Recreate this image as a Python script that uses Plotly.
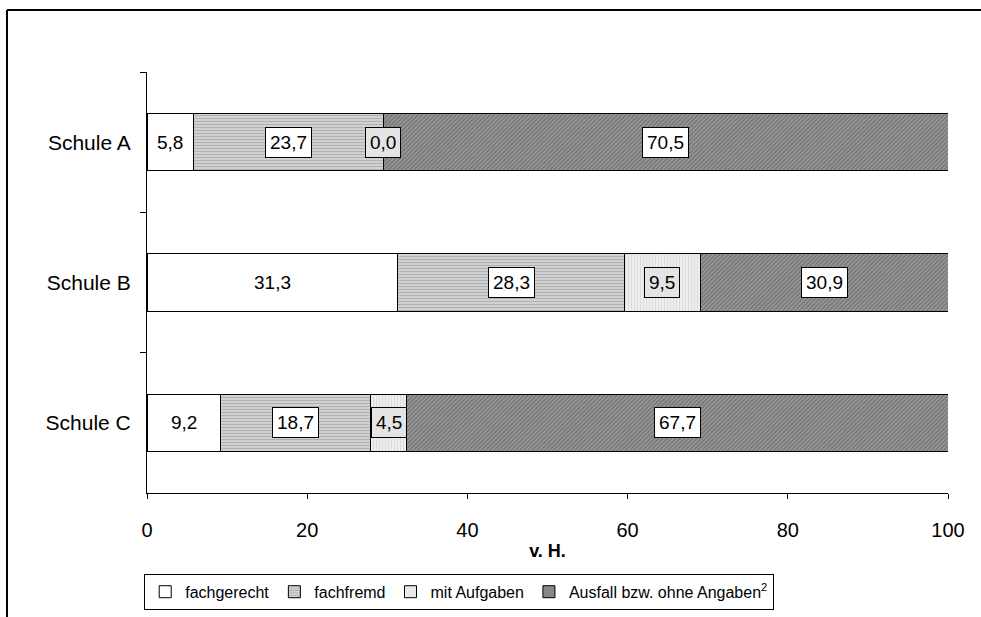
import plotly.graph_objects as go

categories = ["Schule A", "Schule B", "Schule C"]
fachgerecht = [5.8, 31.3, 9.2]
fachfremd = [23.7, 28.3, 18.7]
mit_aufgaben = [0.0, 9.5, 4.5]
ausfall = [70.5, 30.9, 67.7]
series_names = ["fachgerecht", "fachfremd", "mit Aufgaben", "Ausfall bzw. ohne Angaben<sup>2</sup>"]
x_ticks = [0, 20, 40, 60, 80, 100]

FONT = "Liberation Sans, Arial, sans-serif"
series = [fachgerecht, fachfremd, mit_aufgaben, ausfall]
patterns = [
    dict(shape="", bgcolor="white", fgcolor="white"),
    dict(shape="-", bgcolor="#d8d8d8", fgcolor="#8a8a8a", size=3, solidity=0.45),
    dict(shape="|", bgcolor="#eeeeee", fgcolor="#c8c8c8", size=3, solidity=0.35),
    dict(shape="/", bgcolor="#9a9a9a", fgcolor="#4e4e4e", size=3, solidity=0.5),
]
colors = ["white", "#b8b8b8", "#e6e6e6", "#7f7f7f"]
label_bg = [None, "white", "#e4e4e4", "white"]
label_border = [None, "black", "black", "black"]

fig = go.Figure()
for name, vals, pat, col in zip(series_names, series, patterns, colors):
    fig.add_trace(go.Bar(
        y=categories, x=vals, name=name, orientation="h",
        width=0.41,
        marker=dict(color=col, pattern=pat, line=dict(color="black", width=1)),
        hoverinfo="x+y",
    ))

annotations = []
for i, cat in enumerate(categories):
    cum = 0.0
    for s, vals in enumerate(series):
        v = vals[i]
        center = cum + v / 2
        cum += v
        txt = f"{v:.1f}".replace(".", ",")
        ann = dict(x=center, y=cat, xref="x", yref="y", text=txt, showarrow=False,
                   font=dict(family=FONT, size=19, color="black"), borderpad=4)
        if label_border[s]:
            ann.update(bgcolor=label_bg[s], bordercolor=label_border[s], borderwidth=1)
        annotations.append(ann)

fig.update_layout(
    width=981, height=617,
    margin=dict(l=147, r=33, t=72, b=124, autoexpand=False),
    paper_bgcolor="white", plot_bgcolor="white",
    barmode="stack",
    font=dict(family=FONT, size=19, color="black"),
    showlegend=True,
    legend=dict(orientation="h", xref="container", x=0.147, xanchor="left",
                yref="container", y=0.07, yanchor="top",
                bordercolor="black", borderwidth=1, font=dict(size=16),
                traceorder="normal", itemwidth=30, tracegroupgap=0),
    annotations=annotations,
    shapes=[
        dict(type="line", xref="paper", yref="paper", x0=-0.1748, x1=-0.1748, y0=-0.4, y1=1.1473,
             line=dict(color="black", width=2)),
        dict(type="line", xref="paper", yref="paper", x0=-0.1748, x1=1.1, y0=1.1473, y1=1.1473,
             line=dict(color="black", width=2)),
    ],
)
fig.update_xaxes(range=[0, 100], tickvals=x_ticks, ticks="outside", ticklen=5, tickcolor="black",
                 showline=True, linecolor="black", linewidth=1, showgrid=False, zeroline=False,
                 title=dict(text="<b>v. H.</b>", font=dict(size=18), standoff=4),
                 tickfont=dict(size=20), ticklabelstandoff=14)
fig.update_yaxes(autorange="reversed", ticks="outside", ticklen=6, tickcolor="black",
                 tickson="boundaries", showline=True, linecolor="black", linewidth=1,
                 showgrid=False, tickfont=dict(size=21), ticklabelstandoff=11)

fig.write_html("out.html")
